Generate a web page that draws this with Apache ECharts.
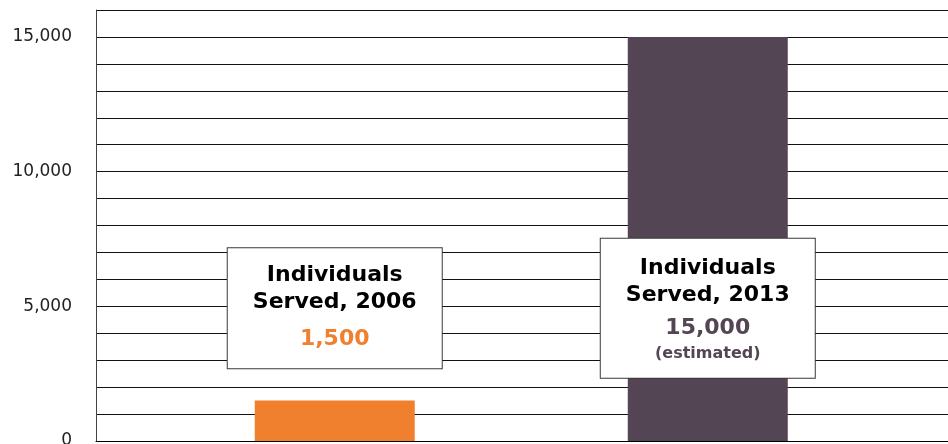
<!DOCTYPE html>
<html>
<head>
<meta charset="utf-8">
<script src="https://cdn.jsdelivr.net/npm/echarts@6/dist/echarts.min.js"></script>
<style>
  html, body { margin: 0; padding: 0; background: #fff; }
  #chart { width: 948px; height: 444px; }
</style>
</head>
<body>
<div id="chart"></div>
<script>
// data
var years = ['2006', '2013'];
var served = [1500, 15000];
var valueLabels = ['1,500', '15,000'];
var notes = ['', '(estimated)'];
var barColors = ['#F07F2E', '#544555'];
var yTicks = [0, 5000, 10000, 15000];

var FONT = "Verdana, 'DejaVu Sans', sans-serif";

var chart = echarts.init(document.getElementById('chart'));

// x position of each bar = its index + 1
var barData = served.map(function (v, i) {
  return { value: [i + 1, v], itemStyle: { color: barColors[i] } };
});

// label boxes sit just under the 5,000 line, centred on each bar
var boxData = years.map(function (y, i) {
  var text = '{t|Individuals}\n{t|Served, ' + y + '}\n{v' + i + '|' + valueLabels[i] + '}';
  if (notes[i]) text += '\n{n|' + notes[i] + '}';
  return {
    value: [i + 1, 4930],
    label: {
      formatter: text,
      padding: notes[i] ? [16, 0, 19, 0] : [14, 0, 6, 0]
    }
  };
});

var option = {
  animation: false,
  textStyle: { fontFamily: FONT },
  grid: { left: 96, right: 0, top: 10, bottom: 3, outerBoundsMode: 'none' },
  xAxis: {
    type: 'value',
    min: 0.36,
    max: 2.644,
    axisLine: { show: true, onZero: false, lineStyle: { color: '#000', width: 1 } },
    axisTick: { show: false },
    axisLabel: { show: false },
    splitLine: { show: false }
  },
  yAxis: {
    type: 'value',
    min: 0,
    max: 16000,
    interval: 1000,
    axisLine: { show: true, lineStyle: { color: '#444', width: 1 } },
    axisTick: { show: false },
    axisLabel: {
      margin: 24,
      fontSize: 17,
      color: '#222',
      padding: [5, 0, 0, 0],
      fontFamily: FONT,
      formatter: function (v) {
        return yTicks.indexOf(v) >= 0 ? v.toLocaleString('en-US') : '';
      }
    },
    splitLine: { show: true, lineStyle: { color: '#111', width: 1 } }
  },
  series: [
    {
      type: 'bar',
      barWidth: 160,
      data: barData,
      z: 2
    },
    {
      type: 'scatter',
      symbolSize: 0,
      z: 5,
      itemStyle: { opacity: 1 },
      emphasis: { disabled: true },
      data: boxData,
      label: {
        show: true,
        position: 'inside',
        width: 214,
        align: 'center',
        backgroundColor: '#fff',
        borderColor: '#3a3a3a',
        borderWidth: 1,
        fontFamily: FONT,
        rich: {
          t: { fontSize: 22, fontWeight: 'bold', color: '#000', lineHeight: 27, align: 'center', fontFamily: FONT },
          v0: { fontSize: 22, fontWeight: 'bold', color: '#F07F2E', lineHeight: 46, align: 'center', fontFamily: FONT },
          v1: { fontSize: 22, fontWeight: 'bold', color: '#544555', lineHeight: 40, align: 'center', fontFamily: FONT },
          n: { fontSize: 16, fontWeight: 'bold', color: '#544555', lineHeight: 10, align: 'center', fontFamily: FONT }
        }
      }
    }
  ]
};

chart.setOption(option);
</script>
</body>
</html>
